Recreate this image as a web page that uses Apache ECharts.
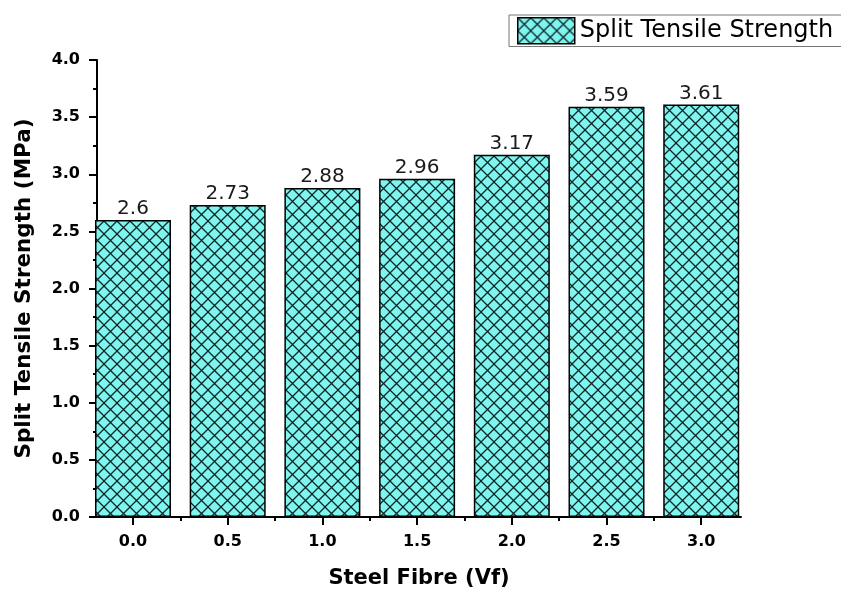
<!DOCTYPE html>
<html>
<head>
<meta charset="utf-8">
<script src="https://cdn.jsdelivr.net/npm/echarts@6/dist/echarts.min.js"></script>
<style>
html,body{margin:0;padding:0;background:#fff;}
#chart{width:841px;height:589px;}
</style>
</head>
<body>
<div id="chart"></div>
<script>
// ---- data ----
const categories = ['0.0', '0.5', '1.0', '1.5', '2.0', '2.5', '3.0'];
const strengths = [2.6, 2.73, 2.88, 2.96, 3.17, 3.59, 3.61];
const seriesName = 'Split Tensile Strength';
const xTitle = 'Steel Fibre (Vf)';
const yTitle = 'Split Tensile Strength (MPa)';
const yMin = 0, yMax = 4, yStep = 0.5;
// x range of the plot (in x units, hundredths)
const xStartH = -19, xEndH = 321;

// fine category grid so the axis can extend past the first/last bar
const fine = [];
for (let i = xStartH; i <= xEndH; i++) fine.push((i / 100).toFixed(2));
const barData = categories.map((c, i) => [parseFloat(c).toFixed(2), strengths[i]]);

function hundredths(v) { return Math.round(parseFloat(v) * 100); }
function isMajor(v) { const h = hundredths(v); return h >= 0 && h <= 300 && h % 50 === 0; }
function isMinor(v) { const h = hundredths(v); return h > 0 && h < 300 && h % 25 === 0 && h % 50 !== 0; }

function hatch() {
  const s = 13;
  const c = document.createElement('canvas');
  c.width = s; c.height = s;
  const g = c.getContext('2d');
  g.fillStyle = '#7FF5F0';
  g.fillRect(0, 0, s, s);
  g.strokeStyle = '#0c2626';
  g.lineWidth = 1.3;
  g.beginPath();
  g.moveTo(-1, -1); g.lineTo(s + 1, s + 1);
  g.moveTo(s + 1, -1); g.lineTo(-1, s + 1);
  g.stroke();
  return c;
}
const pattern = { image: hatch(), repeat: 'repeat' };

const chart = echarts.init(document.getElementById('chart'), null, { renderer: 'canvas' });
const font = 'DejaVu Sans';
chart.setOption({
  animation: false,
  backgroundColor: '#fff',
  grid: { left: 97, right: 100, top: 60, bottom: 72, containLabel: false, outerBoundsMode: 'none' },
  legend: {
    data: [seriesName],
    left: 509, top: 15,
    padding: [2, 40, 2, 8],
    icon: 'rect',
    itemWidth: 57, itemHeight: 26,
    borderColor: '#777', borderWidth: 1,
    backgroundColor: '#fff',
    borderRadius: 0,
    itemStyle: { borderColor: '#000', borderWidth: 1.5 },
    textStyle: { fontFamily: font, fontSize: 24, color: '#000' }
  },
  xAxis: [
    {
      type: 'category', data: fine, boundaryGap: false, position: 'bottom',
      min: 0, max: fine.length - 1,
      name: xTitle, nameLocation: 'middle', nameGap: 51,
      nameTextStyle: { fontFamily: font, fontWeight: 'bold', fontSize: 21, color: '#000' },
      axisLine: { lineStyle: { color: '#000', width: 2 } },
      axisTick: { show: true, length: 8, lineStyle: { color: '#000', width: 2 },
        interval: (idx, v) => isMajor(v) },
      axisLabel: { interval: (idx, v) => isMajor(v), margin: 17,
        formatter: v => parseFloat(v).toFixed(1),
        fontFamily: font, fontWeight: 'bold', fontSize: 16, color: '#000' },
      splitLine: { show: false }
    },
    {
      type: 'category', data: fine, boundaryGap: false, position: 'bottom', offset: 0,
      min: 0, max: fine.length - 1,
      axisLine: { show: false },
      axisTick: { show: true, length: 4, lineStyle: { color: '#000', width: 2 },
        interval: (idx, v) => isMinor(v) },
      axisLabel: { show: false },
      splitLine: { show: false }
    }
  ],
  yAxis: {
    type: 'value', min: yMin, max: yMax, interval: yStep,
    name: yTitle, nameLocation: 'middle', nameGap: 62,
    nameTextStyle: { fontFamily: font, fontWeight: 'bold', fontSize: 21.5, color: '#000' },
    axisLine: { show: true, lineStyle: { color: '#000', width: 2 } },
    axisTick: { show: true, length: 8, lineStyle: { color: '#000', width: 2 } },
    minorTick: { show: true, splitNumber: 2, length: 4, lineStyle: { color: '#000', width: 2 } },
    axisLabel: { margin: 17, formatter: v => v.toFixed(1),
      fontFamily: font, fontWeight: 'bold', fontSize: 16, color: '#000' },
    splitLine: { show: false }
  },
  series: [{
    name: seriesName,
    type: 'bar',
    xAxisIndex: 0,
    data: barData,
    barWidth: 76,
    itemStyle: { color: pattern, borderColor: '#000', borderWidth: 1.5 },
    label: {
      show: true, position: 'top', distance: 1,
      formatter: p => String(p.value[1]),
      fontFamily: font, fontSize: 20, color: '#1a1a1a'
    }
  }]
});
</script>
</body>
</html>
